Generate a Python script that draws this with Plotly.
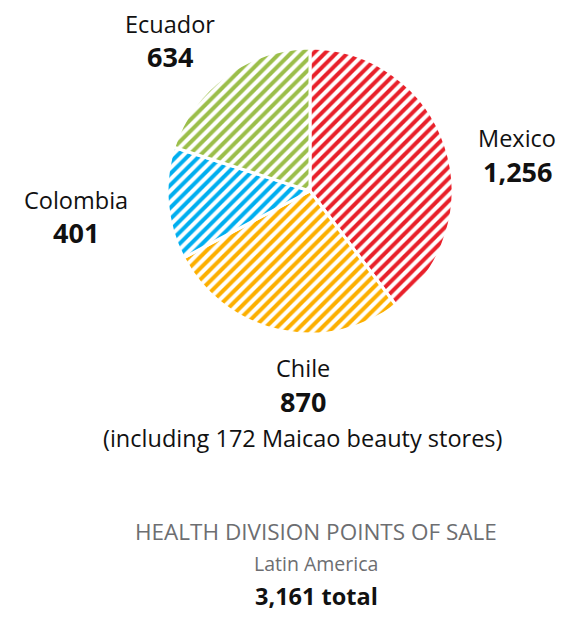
import plotly.graph_objects as go

countries = ["Mexico", "Chile", "Colombia", "Ecuador"]
values = [1256, 870, 401, 634]
colors = ["#E8202A", "#FCAF00", "#00AEEF", "#9BBE4A"]
value_labels = ["1,256", "870", "401", "634"]

# page body has an 8px margin: shrink the figure so the page fits the window
OFF = 8
W, H = 569 - 2 * OFF, 619 - 2 * OFF

def px2x(px):
    return (px - OFF) / W

def py2y(py):
    return 1 - (py - OFF) / H

CX, CY, R = 310, 191, 143

fig = go.Figure()
fig.add_trace(go.Pie(
    labels=countries,
    values=values,
    sort=False,
    direction="clockwise",
    rotation=0,
    textinfo="none",
    hoverinfo="label+value",
    showlegend=False,
    marker=dict(
        colors=["white"] * 4,
        line=dict(color="white", width=3),
        pattern=dict(shape="/", fgcolor=colors, bgcolor="white", size=8, solidity=0.5, fillmode="replace"),
    ),
    domain=dict(x=[px2x(CX - R), px2x(CX + R)], y=[py2y(CY + R), py2y(CY - R)]),
))

FONT = "Open Sans"

def ann(text, px, py, size, color="#111111", bold=False, **kw):
    t = f"<b>{text}</b>" if bold else text
    args = dict(text=t, x=px2x(px), y=py2y(py), xref="paper", yref="paper",
                xanchor="center", yanchor="middle", showarrow=False,
                font=dict(family=FONT, size=size, color=color))
    args.update(kw)
    fig.add_annotation(**args)

pos = {"Mexico": (517, 138), "Chile": (303, 368), "Colombia": (76, 200), "Ecuador": (170, 24)}
for c, v in zip(countries, value_labels):
    x, y = pos[c]
    ann(c, x, y, 23.5)
    ann(v, x, y + 33, 27, bold=True)

ann("(including 172 Maicao beauty stores)", 303, 438, 23.5)
ann("HEALTH DIVISION POINTS OF SALE", 316, 531, 22.5, color="#6D6E71")
ann("Latin America", 316, 563, 19.5, color="#6D6E71")
fig.add_annotation(text="<b>3,161 total</b>", x=px2x(316), y=0, xref="paper", yref="paper",
                   xanchor="center", yanchor="bottom", yshift=-3, showarrow=False,
                   font=dict(family=FONT, size=23.5, color="#111111"))

fig.update_layout(
    width=W, height=H,
    margin=dict(l=0, r=0, t=0, b=0),
    paper_bgcolor="white",
    plot_bgcolor="white",
)

fig.write_html("out.html")
